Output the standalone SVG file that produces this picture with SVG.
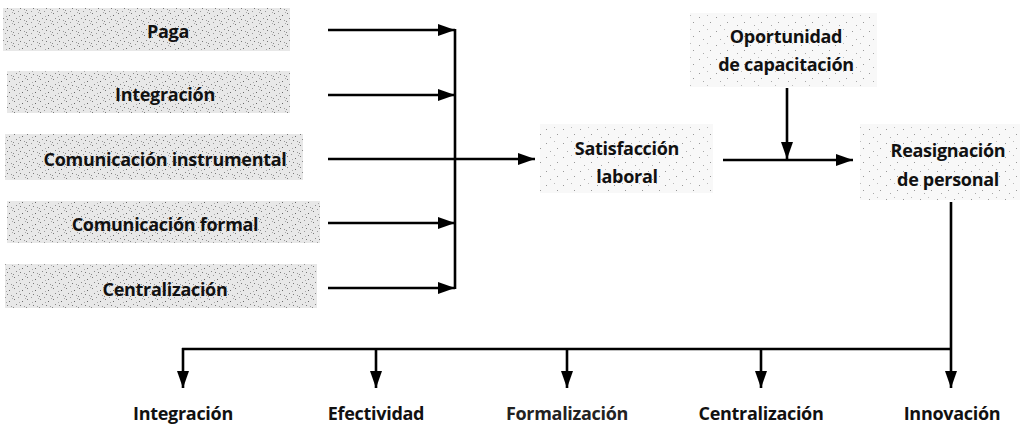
<svg xmlns="http://www.w3.org/2000/svg" width="1027" height="429" viewBox="0 0 1027 429">
<style>
.t{font-family:"Open Sans","Liberation Sans",sans-serif;font-weight:700;font-size:18px;fill:#111;text-anchor:middle;letter-spacing:-0.3px}
.c{stroke:#000;stroke-width:2.6;fill:none}
</style>
<defs>
<pattern id="st" width="13" height="11" patternUnits="userSpaceOnUse">
<rect width="13" height="11" fill="#e8e8e8"/>
<rect x="1" y="2" width="1" height="1" fill="#777"/>
<rect x="5" y="0" width="1" height="1" fill="#999"/>
<rect x="9" y="4" width="1" height="1" fill="#666"/>
<rect x="3" y="7" width="1" height="1" fill="#888"/>
<rect x="11" y="9" width="1" height="1" fill="#999"/>
<rect x="7" y="8" width="1" height="1" fill="#777"/>
<rect x="6" y="5" width="1" height="1" fill="#aaa"/>
<rect x="0" y="10" width="1" height="1" fill="#888"/>
<rect x="12" y="1" width="1" height="1" fill="#aaa"/>
</pattern>
<pattern id="sl" width="17" height="14" patternUnits="userSpaceOnUse">
<rect width="17" height="14" fill="#f8f8f8"/>
<rect x="2" y="3" width="1" height="1" fill="#999"/>
<rect x="10" y="1" width="1" height="1" fill="#bbb"/>
<rect x="13" y="8" width="1" height="1" fill="#999"/>
<rect x="6" y="11" width="1" height="1" fill="#aaa"/>
</pattern>
<marker id="ah" viewBox="0 0 17 12" refX="17" refY="6" markerWidth="17" markerHeight="12" markerUnits="userSpaceOnUse" orient="auto">
<path d="M0,0 L17,6 L0,12 z" fill="#000"/>
</marker>
</defs>
<rect width="1027" height="429" fill="#fff"/>

<g id="n-paga"><rect x="3" y="8" width="287" height="43" fill="url(#st)"/><text class="t" x="168" y="38">Paga</text></g>
<g id="n-integracion"><rect x="7" y="71" width="283" height="42" fill="url(#st)"/><text class="t" x="165" y="101">Integración</text></g>
<g id="n-cominst"><rect x="5" y="134" width="298" height="46" fill="url(#st)"/><text class="t" x="165" y="166">Comunicación instrumental</text></g>
<g id="n-comformal"><rect x="7" y="201" width="313" height="42" fill="url(#st)"/><text class="t" x="165" y="231">Comunicación formal</text></g>
<g id="n-centralizacion"><rect x="5" y="264" width="312" height="44" fill="url(#st)"/><text class="t" x="165" y="296">Centralización</text></g>

<g id="n-oportunidad"><rect x="690" y="13" width="187" height="74" fill="url(#sl)"/><text class="t" x="786" y="43">Oportunidad</text><text class="t" x="786" y="71">de capacitación</text></g>
<g id="n-satisfaccion"><rect x="540" y="124" width="173" height="69" fill="url(#sl)"/><text class="t" x="627" y="155">Satisfacción</text><text class="t" x="627" y="183">laboral</text></g>
<g id="n-reasignacion"><rect x="860" y="124" width="160" height="76" fill="url(#sl)"/><text class="t" x="948" y="157">Reasignación</text><text class="t" x="948" y="186">de personal</text></g>

<g id="n-b-integracion"><text class="t" x="183" y="420">Integración</text></g>
<g id="n-b-efectividad"><text class="t" x="376" y="420">Efectividad</text></g>
<g id="n-b-formalizacion"><text class="t" x="567" y="420" style="fill:#222">Formalización</text></g>
<g id="n-b-centralizacion"><text class="t" x="761" y="420">Centralización</text></g>
<g id="n-b-innovacion"><text class="t" x="952" y="420">Innovación</text></g>

<g id="connectors">
<line class="c" x1="328" y1="30" x2="455" y2="30" marker-end="url(#ah)"/>
<line class="c" x1="328" y1="95" x2="455" y2="95" marker-end="url(#ah)"/>
<line class="c" x1="328" y1="159" x2="535" y2="159" marker-end="url(#ah)"/>
<line class="c" x1="328" y1="223" x2="455" y2="223" marker-end="url(#ah)"/>
<line class="c" x1="328" y1="288" x2="455" y2="288" marker-end="url(#ah)"/>
<line class="c" x1="455" y1="29" x2="455" y2="289"/>
<line class="c" x1="787" y1="88" x2="787" y2="159" marker-end="url(#ah)"/>
<line class="c" x1="723" y1="160" x2="853" y2="160" marker-end="url(#ah)"/>
<line class="c" x1="951" y1="202" x2="951" y2="388" marker-end="url(#ah)"/>
<line class="c" x1="182" y1="349" x2="951" y2="349"/>
<line class="c" x1="183" y1="348" x2="183" y2="388" marker-end="url(#ah)"/>
<line class="c" x1="376" y1="349" x2="376" y2="388" marker-end="url(#ah)"/>
<line class="c" x1="567" y1="349" x2="567" y2="388" marker-end="url(#ah)"/>
<line class="c" x1="761" y1="349" x2="761" y2="388" marker-end="url(#ah)"/>
</g>
</svg>
